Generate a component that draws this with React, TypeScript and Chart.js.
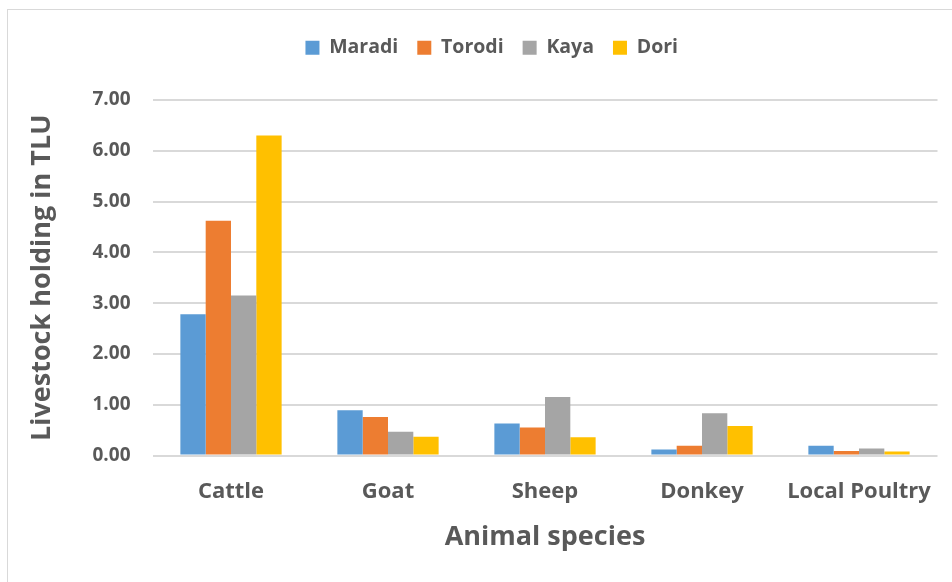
import { useEffect, useRef } from "react";
import { Chart, registerables } from "chart.js";

Chart.register(...registerables);

// Livestock holdings (TLU) by animal species and site
const categories = ["Cattle", "Goat", "Sheep", "Donkey", "Local Poultry"];
const maradi = [2.78, 0.89, 0.63, 0.12, 0.19];
const torodi = [4.62, 0.76, 0.55, 0.19, 0.09];
const kaya = [3.15, 0.47, 1.15, 0.83, 0.14];
const dori = [6.3, 0.37, 0.36, 0.58, 0.08];
const yMin = 0;
const yMax = 7;
const yStep = 1;

const FONT = "'Open Sans', Lato, sans-serif";
const TEXT = "#595959";

const W = 952;
const H = 582;

export default function App() {
  const ref = useRef<HTMLCanvasElement | null>(null);

  useEffect(() => {
    if (!ref.current) return;

    // Give the legend a fixed height and a small nudge
    const legendTweak = {
      id: "legendTweak",
      beforeLayout(chart: any) {
        const lg = chart.legend;
        if (!lg || lg.__tweaked) return;
        lg.__tweaked = true;
        const fit = lg.fit;
        lg.fit = function (...args: any[]) {
          fit.apply(this, args);
          this.height = 83;
        };
        const draw = lg.draw;
        lg.draw = function (...args: any[]) {
          const ctx = this.ctx;
          ctx.save();
          ctx.translate(13, 2);
          draw.apply(this, args);
          ctx.restore();
        };
      },
    };

    const chart = new Chart(ref.current, {
      type: "bar",
      data: {
        labels: categories,
        datasets: [
          { label: "Maradi", data: maradi, backgroundColor: "#5B9BD5" },
          { label: "Torodi", data: torodi, backgroundColor: "#ED7D31" },
          { label: "Kaya", data: kaya, backgroundColor: "#A5A5A5" },
          { label: "Dori", data: dori, backgroundColor: "#FFC000" },
        ],
      },
      options: {
        responsive: false,
        animation: false,
        devicePixelRatio: 1,
        layout: { padding: { top: 17, left: 20, right: 14.5, bottom: 26 } },
        datasets: {
          bar: { categoryPercentage: 0.645, barPercentage: 1 },
        },
        plugins: {
          tooltip: { enabled: false },
          legend: {
            position: "top",
            labels: {
              boxWidth: 14,
              boxHeight: 14,
              padding: 19,
              color: TEXT,
              font: { family: FONT, size: 19.5, weight: "bold" },
            },
          },
        },
        scales: {
          x: {
            grid: { display: false },
            border: { display: false },
            ticks: {
              color: TEXT,
              padding: 15,
              font: { family: FONT, size: 22, weight: "bold" },
            },
            title: {
              display: true,
              text: "Animal species",
              color: TEXT,
              padding: { top: 0, bottom: 2 },
              font: { family: FONT, size: 27, weight: "bold" },
            },
            afterFit(scale: any) {
              scale.height = 100.5;
            },
          },
          y: {
            min: yMin,
            max: yMax,
            grid: { color: "#d9d9d9", lineWidth: 2, drawTicks: false },
            border: { display: false },
            ticks: {
              stepSize: yStep,
              color: TEXT,
              padding: 22,
              font: { family: FONT, size: 19, weight: "bold" },
              callback: (v: any) => Number(v).toFixed(2),
            },
            title: {
              display: true,
              text: "Livestock holding in TLU",
              color: TEXT,
              padding: { top: 6, bottom: 0 },
              font: { family: FONT, size: 27, weight: "bold" },
            },
            afterFit(scale: any) {
              scale.width = 132.5;
            },
          },
        },
      },
      plugins: [legendTweak],
    });

    return () => chart.destroy();
  }, []);

  return (
    <div style={{ position: "fixed", left: 0, top: 0, width: W, height: H, overflow: "hidden", background: "#fff" }}>
      <div
        style={{
          position: "absolute",
          left: 7,
          top: 9,
          width: 2000,
          height: 2000,
          border: "1px solid #d9d9d9",
        }}
      />
      <canvas ref={ref} width={W} height={H} style={{ position: "absolute", left: 0, top: 0 }} />
    </div>
  );
}
